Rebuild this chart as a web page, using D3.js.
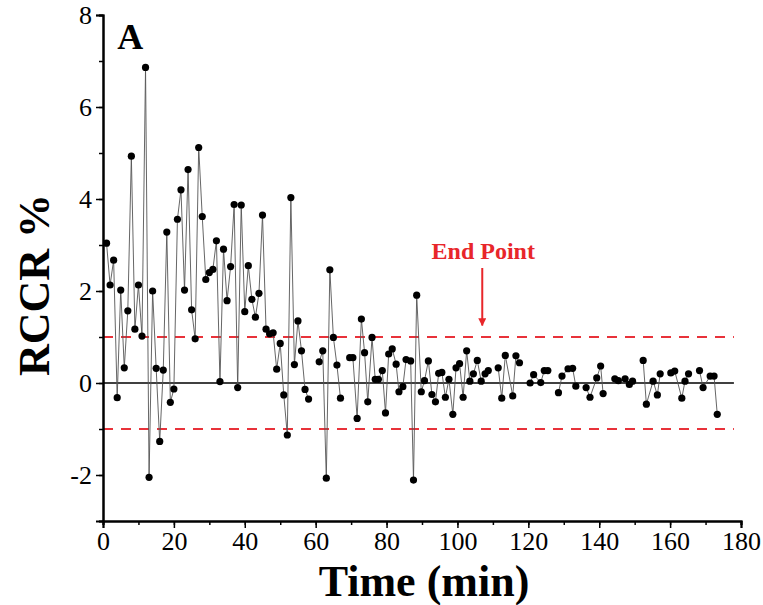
<!DOCTYPE html>
<html>
<head>
<meta charset="utf-8">
<script src="https://cdn.jsdelivr.net/npm/d3@7"></script>
<style>
  body { margin: 0; background: #fff; }
  svg { display: block; }
</style>
</head>
<body>
<div id="vis"></div>
<script>
// RCCR % vs time, readings taken off the figure
let times = [1, 2, 3, 4, 5, 6, 7, 8, 9, 10, 11, 12, 13, 14, 15, 16, 17, 18, 19, 20,
  21, 22, 23, 24, 25, 26, 27, 28, 29, 30, 31, 32, 33, 34, 35, 36, 37, 38, 39, 40,
  41, 42, 43, 44, 45, 46, 47, 48, 49, 50, 51, 52, 53, 54, 55, 56, 57, 58,
  61, 62, 63, 64, 65, 66, 67, 69.6, 70.5, 71.7, 72.9, 73.8, 74.7, 75.9, 76.8, 77.7,
  78.8, 79.7, 80.6, 81.6, 82.7, 83.5, 84.6, 85.5, 86.8, 87.6, 88.5, 89.8, 90.7, 91.8,
  92.8, 93.8, 94.7, 95.6, 96.6, 97.6, 98.7, 99.6, 100.6, 101.6, 102.6, 103.5, 104.5,
  105.6, 106.7, 107.8, 108.7, 111.5, 112.5, 113.5, 115.6, 116.5, 117.5, 120.5, 121.5,
  123.5, 124.5, 125.5, 128.5, 129.5, 131.2, 132.5, 133.4, 136.3, 137.4, 139.3, 140.4,
  141.1, 144.4, 145.4, 147.3, 148.5, 149.4, 152.4, 153.3, 155.2, 156.4, 157.2, 160.2,
  161.3, 163.3, 164.2, 165.2, 168.3, 169.3, 171.3, 172.4, 173.3];

let rccr = [3.04, 2.13, 2.67, -0.32, 2.02, 0.33, 1.57, 4.93, 1.17, 2.13, 1.02, 6.86, -2.05, 2.0, 0.32, -1.27, 0.28, 3.28, -0.42, -0.13,
  3.56, 4.2, 2.02, 4.64, 1.59, 0.96, 5.12, 3.62, 2.25, 2.4, 2.47, 3.09, 0.03, 2.91, 1.79, 2.53, 3.88, -0.1, 3.87, 1.55,
  2.55, 1.82, 1.43, 1.95, 3.65, 1.17, 1.07, 1.09, 0.3, 0.86, -0.26, -1.13, 4.03, 0.4, 1.35, 0.7, -0.14, -0.35,
  0.46, 0.7, -2.07, 2.46, 0.99, 0.39, -0.33, 0.55, 0.55, -0.77, 1.39, 0.66, -0.41, 0.99, 0.08, 0.08,
  0.27, -0.65, 0.63, 0.74, 0.41, -0.19, -0.08, 0.51, 0.48, -2.11, 1.91, -0.19, 0.05, 0.48,
  -0.25, -0.41, 0.21, 0.23, -0.31, 0.08, -0.68, 0.33, 0.42, -0.31, 0.7, 0.04, 0.2,
  0.49, 0.04, 0.2, 0.27, 0.33, -0.33, 0.6, -0.28, 0.59, 0.44, 0.0, 0.18,
  0.01, 0.27, 0.27, -0.21, 0.15, 0.31, 0.32, -0.07, -0.1, -0.31, 0.11, 0.37,
  -0.23, 0.09, 0.05, 0.09, -0.03, 0.04, 0.49, -0.46, 0.04, -0.26, 0.2, 0.22,
  0.26, -0.33, 0.04, 0.2, 0.27, -0.1, 0.15, 0.15, -0.68];

let xTicks = [0, 20, 40, 60, 80, 100, 120, 140, 160, 180];
let yTicks = [-2, 0, 2, 4, 6, 8];
let limits = [1, -1];
let endPoint = 107;
let panelLabel = 'A';

let width = 763, height = 605;
let margin = { top: 15, left: 103, right: 22, bottom: 84 };
let serif = '"Liberation Serif", "Times New Roman", serif';

let svg = d3.select('#vis')
  .append('svg')
  .attr('width', width)
  .attr('height', height)
  .style('font-family', serif);

let x = d3.scaleLinear().domain([0, 180]).range([margin.left, width - margin.right]);
let y = d3.scaleLinear().domain([-3, 8]).range([height - margin.bottom, margin.top]);

let data = times.map((t, i) => ({ t: t, v: rccr[i] }));

// reference lines
svg.append('line')
  .attr('x1', x(0)).attr('x2', x(178))
  .attr('y1', y(0)).attr('y2', y(0))
  .attr('stroke', '#000').attr('stroke-width', 1.6);

svg.selectAll('.limit')
  .data(limits)
  .enter().append('line')
  .attr('class', 'limit')
  .attr('x1', x(0)).attr('x2', x(178))
  .attr('y1', d => y(d)).attr('y2', d => y(d))
  .attr('stroke', '#e8323a').attr('stroke-width', 2)
  .attr('stroke-dasharray', '10,8');

// the series: lines break where readings are missing
let segs = [];
data.forEach((d, i) => {
  if (i == 0 || d.t - data[i - 1].t >= 2.2) segs.push([]);
  segs[segs.length - 1].push(d);
});

svg.selectAll('.seg')
  .data(segs)
  .enter().append('path')
  .attr('class', 'seg')
  .attr('fill', 'none')
  .attr('stroke', '#555')
  .attr('stroke-width', 0.9)
  .attr('d', d3.line().x(d => x(d.t)).y(d => y(d.v)));

svg.selectAll('.pt')
  .data(data)
  .enter().append('circle')
  .attr('class', 'pt')
  .attr('cx', d => x(d.t))
  .attr('cy', d => y(d.v))
  .attr('r', 3.6)
  .attr('fill', '#000');

// axes
let fmt = d => String(d);  // plain hyphen like the original

let xAxis = svg.append('g')
  .attr('transform', 'translate(0,' + y(-3) + ')');
xAxis.call(d3.axisBottom(x).tickValues(d3.range(0, 181, 10)).tickSize(4).tickFormat(''));
let xAxisMajor = svg.append('g')
  .attr('transform', 'translate(0,' + y(-3) + ')')
  .call(d3.axisBottom(x).tickValues(xTicks).tickSize(7).tickPadding(4).tickFormat(fmt));

let yAxis = svg.append('g')
  .attr('transform', 'translate(' + x(0) + ',0)');
yAxis.call(d3.axisLeft(y).tickValues(d3.range(-3, 8.1, 1)).tickSize(4).tickFormat(''));
let yAxisMajor = svg.append('g')
  .attr('transform', 'translate(' + x(0) + ',0)')
  .call(d3.axisLeft(y).tickValues(yTicks).tickSize(7).tickPadding(4).tickFormat(fmt));

[xAxis, xAxisMajor, yAxis, yAxisMajor].forEach(g => {
  g.attr('font-family', serif).attr('font-size', 26);
  g.select('.domain').attr('stroke-width', 2);
  g.selectAll('.tick line').attr('stroke-width', 1.5);
  g.selectAll('text').attr('fill', '#000');
});

// titles
svg.append('text')
  .attr('x', (x(0) + x(180)) / 2 + 2)
  .attr('y', 596)
  .attr('text-anchor', 'middle')
  .attr('font-size', 44)
  .attr('font-weight', 'bold')
  .text('Time (min)');

svg.append('text')
  .attr('transform', 'translate(49,' + 285 + ') rotate(-90)')
  .attr('text-anchor', 'middle')
  .attr('font-size', 44)
  .attr('font-weight', 'bold')
  .text('RCCR %');

svg.append('text')
  .attr('x', x(4))
  .attr('y', y(7.27))
  .attr('font-size', 36)
  .attr('font-weight', 'bold')
  .text(panelLabel);

// end point marker
svg.append('defs').append('marker')
  .attr('id', 'head')
  .attr('viewBox', '0 0 10 10')
  .attr('refX', 9).attr('refY', 5)
  .attr('markerWidth', 4).attr('markerHeight', 4)
  .attr('orient', 'auto')
  .append('path')
  .attr('d', 'M0,0 L10,5 L0,10 z')
  .attr('fill', '#e8262a');

svg.append('line')
  .attr('x1', x(endPoint)).attr('x2', x(endPoint))
  .attr('y1', y(2.5)).attr('y2', y(1.25))
  .attr('stroke', '#e8262a').attr('stroke-width', 2)
  .attr('marker-end', 'url(#head)');

svg.append('text')
  .attr('x', x(endPoint) + 1)
  .attr('y', y(2.7))
  .attr('text-anchor', 'middle')
  .attr('font-size', 24)
  .attr('font-weight', 'bold')
  .attr('fill', '#e8262a')
  .text('End Point');
</script>
</body>
</html>
